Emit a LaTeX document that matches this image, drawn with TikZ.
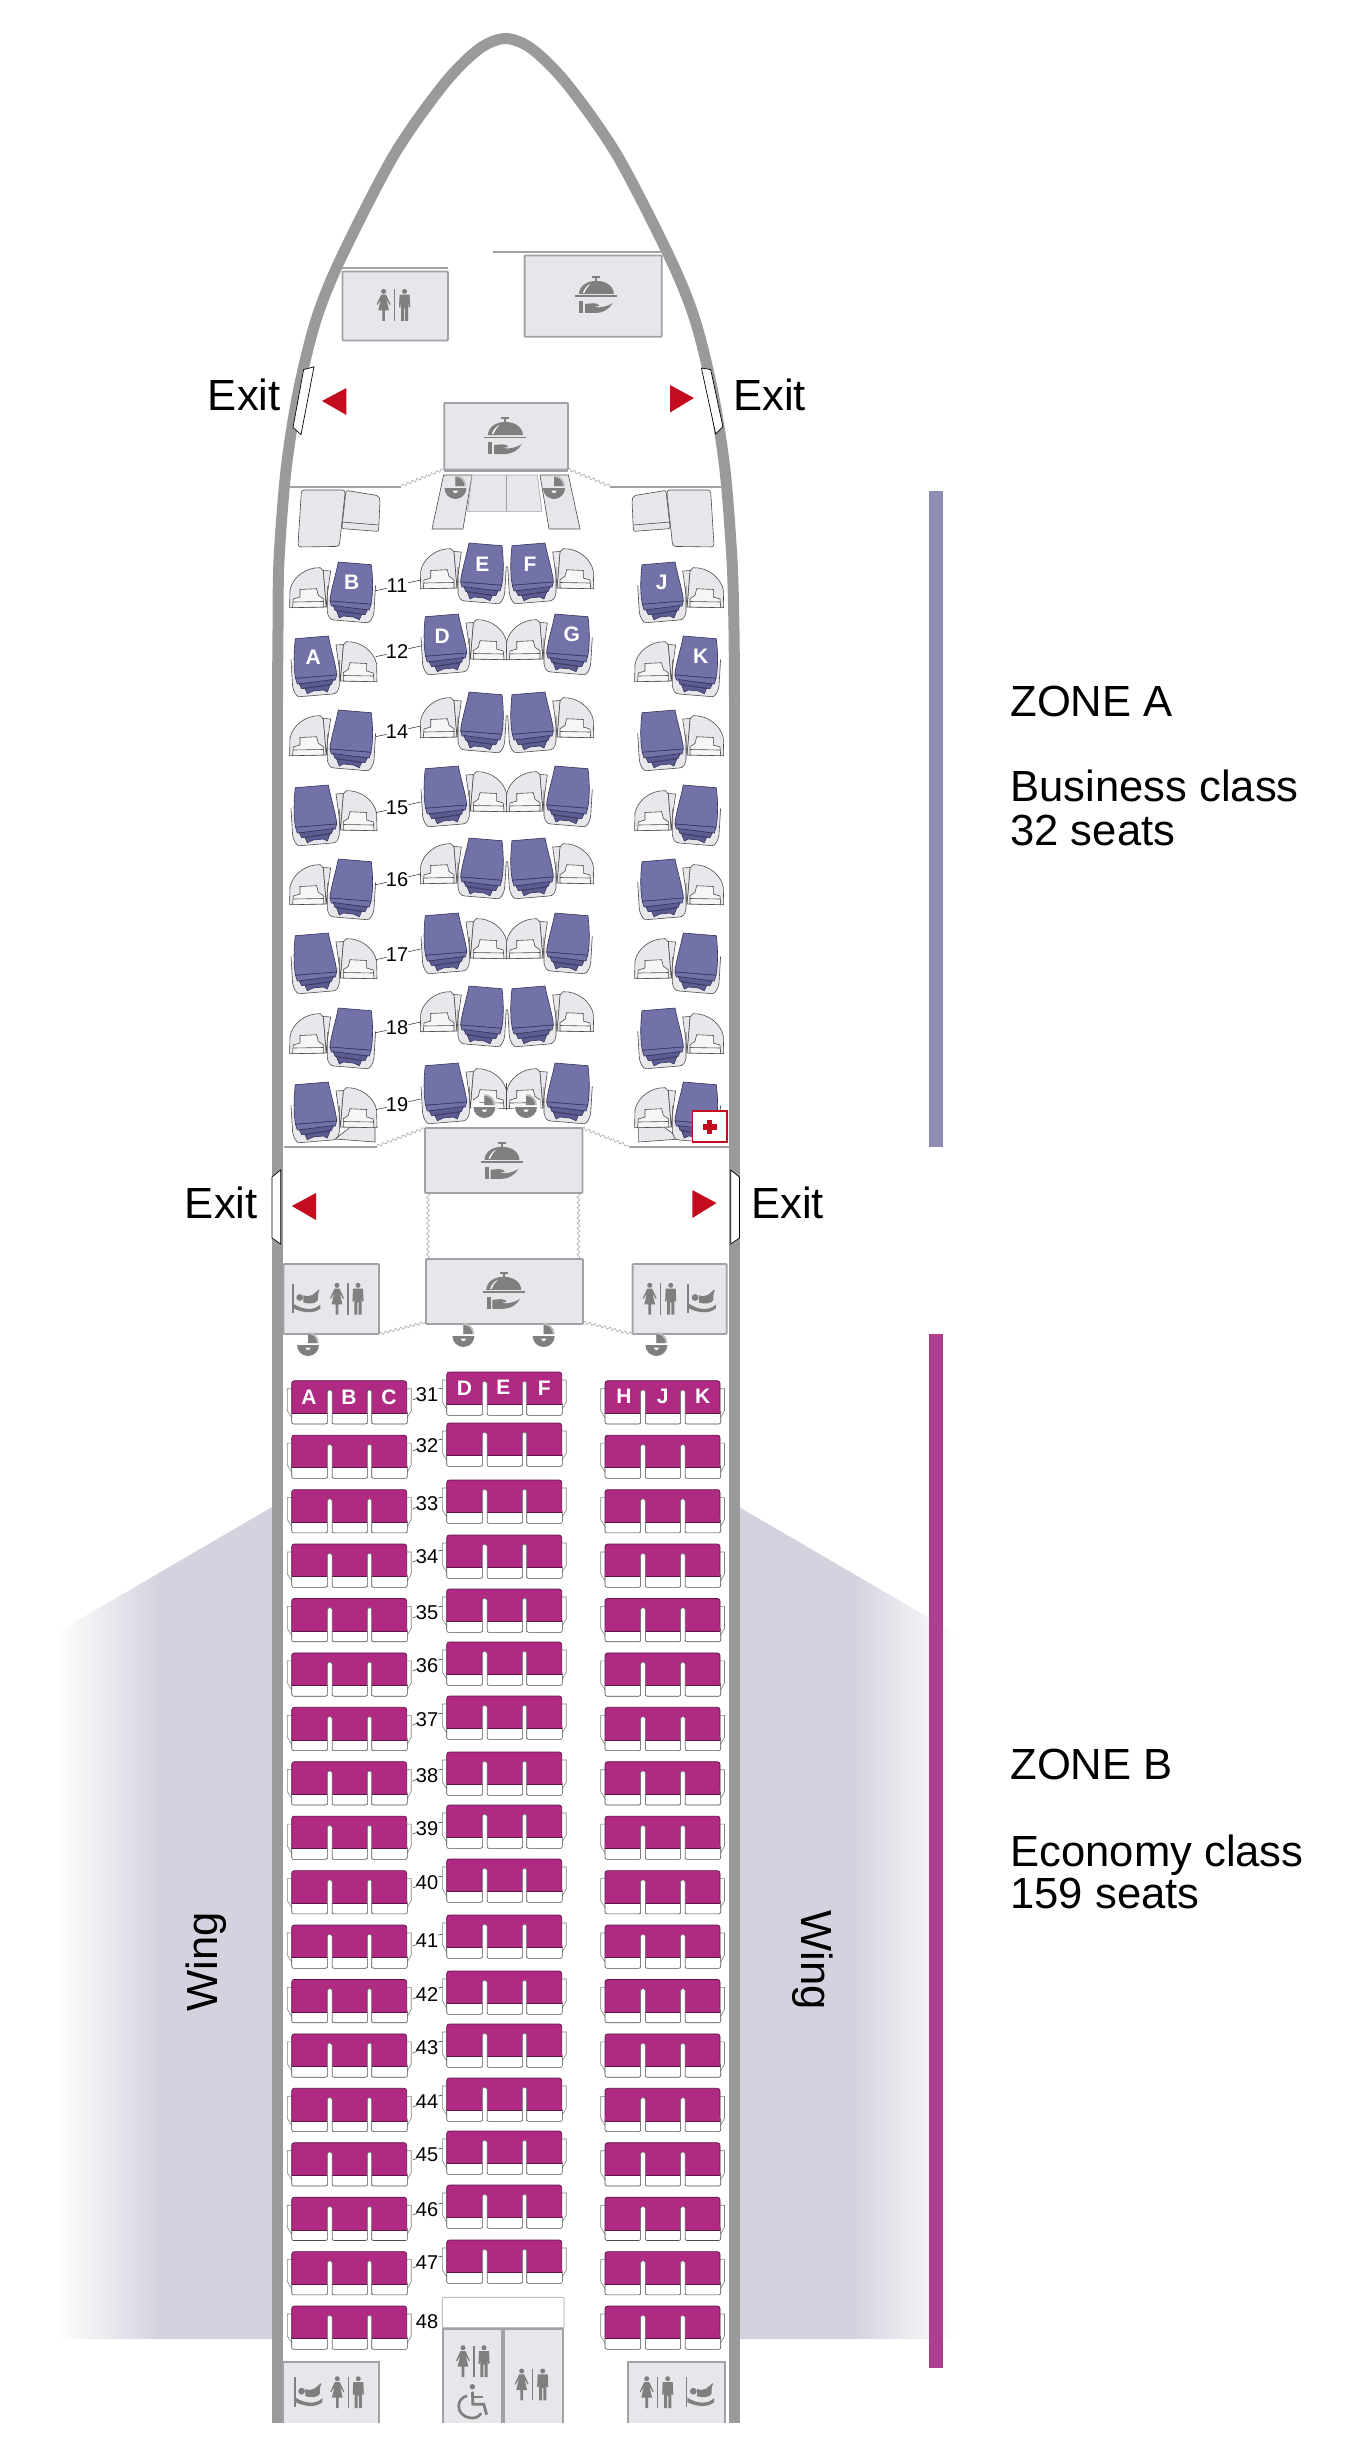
\documentclass[tikz,border=0pt]{standalone}
\usepackage{fontspec}
\setmainfont{Liberation Sans}
\usetikzlibrary{decorations.pathmorphing}
\definecolor{wallc}{HTML}{9A9A9A}
\definecolor{boxf}{HTML}{E6E6EB}
\definecolor{boxl}{HTML}{A2A2A6}
\definecolor{icon}{HTML}{7F7F7F}
\definecolor{bizc}{HTML}{7272A8}
\definecolor{bizd}{HTML}{5C5C92}
\definecolor{bizl}{HTML}{33335A}
\definecolor{econc}{HTML}{B02A84}
\definecolor{econd}{HTML}{5A1446}
\definecolor{redc}{HTML}{C30D1E}
\definecolor{wingc}{HTML}{D3D3DF}
\definecolor{bara}{HTML}{8F8FB5}
\definecolor{barb}{HTML}{B03E90}
\definecolor{consc}{HTML}{E8E8EC}
\tikzset{
  wall/.style={draw=wallc,line width=5.5pt},
  boxed/.style={draw=boxl,fill=boxf,line width=.9pt,rounded corners=.4pt},
  partn/.style={draw=boxl,line width=1pt},
  wavy/.style={draw=boxl!90,line width=.3pt,decorate,decoration={snake,amplitude=.7pt,segment length=2.6pt}},
  door/.style={draw=black,fill=white,line width=.35pt},
  fine/.style={draw=black!70,line width=.3pt},
  arrowtri/.style={fill=redc},
  bigtext/.style={font=\fontsize{21.8}{25}\selectfont,inner sep=0pt,anchor=base west},
  rownum/.style={font=\fontsize{10}{12}\selectfont,inner sep=0pt},
  seatletter/.style={font=\fontsize{10.5}{12}\selectfont\bfseries,text=white,inner sep=0pt},
  tick/.style={draw=black!75,line width=.3pt},
}
% --- icons (all in pixel units around an origin)
\newcommand{\mealicon}[2]{\begin{scope}[shift={(#1,#2)}]
  \fill[icon] (-17.5,-2.5) .. controls (-17,-11) and (-9,-15.5) .. (0,-15.5) .. controls (9,-15.5) and (17,-11) .. (17.5,-2.5) -- cycle;
  \fill[white] (-13.5,-3.5) .. controls (-12,-8) and (-9,-11) .. (-6,-12.5) .. controls (-9,-9) and (-11,-7) .. (-12,-3.5) -- cycle;
  \fill[icon] (-1,-19) rectangle (1,-15);
  \fill[icon] (-4,-20.5) rectangle (4,-18.6);
  \fill[icon] (-21,-1) rectangle (21,0.6);
  \fill[icon] (-17,4.6) rectangle (-13,16.8);
  \fill[icon] (-11.4,7.5) -- (-3,6.8) .. controls (0,6.8) and (3,8) .. (3,9.5) -- (-3,10.5) -- (3,11) .. controls (8,10.5) and (13,9) .. (16.5,6.4) .. controls (13,13) and (6,16.5) .. (0,16.5) -- (-11.4,16.5) -- cycle;
\end{scope}}
\newcommand{\wcicon}[2]{\begin{scope}[shift={(#1,#2)}]
  \fill[icon] (-0.6,-16) rectangle (0.6,15.4);
  \fill[icon] (-11,-14) circle (2.5);
  \fill[icon] (-13.5,-10.7) -- (-8.5,-10.7) -- (-4,-1) -- (-5,-.5) -- (-8.2,-6) -- (-5.6,5) -- (-9.7,5) -- (-9.7,15.4) -- (-11.2,15.4) -- (-11.2,5) -- (-10.8,5) -- (-10.8,15.4) -- (-12.3,15.4) -- (-12.3,5) -- (-16.4,5) -- (-13.8,-6) -- (-17,-.5) -- (-18,-1) -- cycle;
  \fill[icon] (10,-14) circle (2.5);
  \fill[icon] (5,-10.7) -- (15,-10.7) -- (15.6,2) -- (14.1,2) -- (13.6,-6) -- (13.6,15.4) -- (10.6,15.4) -- (10.6,3) -- (9.4,3) -- (9.4,15.4) -- (6.4,15.4) -- (6.4,-6) -- (5.9,2) -- (4.4,2) -- cycle;
\end{scope}}
\newcommand{\cribicon}[2]{\begin{scope}[shift={(#1,#2)}]
  \fill[icon] (-14.5,-14.5) rectangle (-12.7,15);
  \fill[icon] (-12.7,6) .. controls (-2,12.5) and (8,12.5) .. (14,6.5) -- (14,10.5) .. controls (8,15.5) and (-2,15.5) .. (-12.7,10.5) -- cycle;
  \fill[icon] (-6.7,-0.5) circle (3.4);
  \fill[icon] (-3,-3) .. controls (0,-1) and (3,-2) .. (6,-3) .. controls (8,-4) and (10,-7) .. (12.5,-8.5) -- (13,-7.5) .. controls (11,-5) and (12,-1) .. (11.5,2) .. controls (10,6) and (2,6) .. (-3,4.5) -- cycle;
\end{scope}}
\newcommand{\chairicon}[2]{\begin{scope}[shift={(#1,#2)}]
  \fill[icon] (0.7,-15) circle (2.7);
  \draw[icon,line width=1.4pt] (0.7,-10) -- (1.2,2.5) -- (12,2.5) -- (15,13);
  \draw[icon,line width=1.1pt] (1,-4.5) -- (11,-4.5);
  \draw[icon,line width=1.3pt] (9.5,11.5) .. controls (7,16) and (1.5,17) .. (-2,16) .. controls (-8,15.5) and (-13.5,10) .. (-13,4) .. controls (-13,-1) and (-9,-5) .. (-4.5,-6);
\end{scope}}
\newcommand{\crewicon}[2]{\begin{scope}[shift={(#1,#2)}]
  \fill[black!25] (0,-1) -- (0,-12) arc (-90:0:11) -- cycle;
  \fill[icon] (0,-1) -- (0,-10) arc (-90:0:9) -- cycle;
  \fill[icon] (-11,1) arc (180:0:11) -- cycle;
  \fill[white] (-2.5,3.5) -- (2.5,3.5) arc (0:180:2.5) -- cycle;
\end{scope}}
% --- business seat; #1 = 1 or -1 (mirror), #2,#3 = top corner of the seat
\newcommand{\bizseat}[3]{\begin{scope}[shift={(#2,#3)},xscale=#1]
  \path[fill=consc,fine] (-48.7,45.7) -- (-48.3,28) .. controls (-46,16) and (-33,5) .. (-18,5.7) -- (-15,9) -- (-12,45) -- cycle;
  \path[fill=consc,fine] (-15,8.5) -- (-7.7,9) -- (-11,33) -- (-12,45) -- cycle;
  \path[fill=white!60!consc,fine] (-45,37) -- (-38.3,35) -- (-38.3,27.5) -- (-21.7,26.7) -- (-20,33.3) -- (-15,36.7) -- (-15,45) -- (-45.7,45.7) -- cycle;
  \draw[fine] (-45,40) -- (-15,39.5);
  \fill[consc] (-11,33) -- (-11,50) -- (-6.7,57.7) -- (31.7,60.7) -- (35.7,51.7) -- (37.3,23.3) -- (30,40) -- cycle;
  \draw[fine] (-11,24) -- (-11,50) .. controls (-10,55) and (-8,58) .. (-4,58) -- (29,60.7) .. controls (32,60.7) and (35,55) .. (35.7,50) -- (37.3,23.3);
  \path[fill=bizc,draw=bizl,line width=.3pt] (0,0) -- (33,2.7) .. controls (34.5,15) and (35,30) .. (32.7,42.3) -- (-8.3,39) .. controls (-8,30) and (-3,15) .. (0,0) -- cycle;
  \path[fill=bizc,draw=bizl,line width=.3pt] (-8.3,39) -- (32.7,42.3) -- (31,48) -- (-7,44) -- cycle;
  \path[fill=bizd,draw=bizl,line width=.3pt] (-5,43.5) -- (29,48) -- (26.7,52.7) -- (-3.3,48.3) -- cycle;
  \path[fill=bizd,draw=bizl,line width=.3pt] (-1.7,49) -- (23.3,52.5) -- (21,57.7) -- (15,55) -- (5,54) -- (1,56) -- cycle;
\end{scope}}
% --- economy triple
\newcommand{\econrow}[2]{\begin{scope}[shift={(#1,#2)}]
  \draw[fine,draw=black!50] (0,8) -- (-4.3,8) -- (-4.3,30) -- (0,37);
  \draw[fine,draw=black!50] (115,8) -- (119.5,8) -- (119.5,30) -- (115.5,37);
  \foreach \a/\b in {0/35.7,40.3/75.7,80/115.7}{\draw[fine,fill=white,rounded corners=1pt] (\a,30) rectangle (\b,43.3);}
  \path[fill=econc,draw=econd,line width=.35pt,rounded corners=1.3pt] (0,32.7) -- (0,0) -- (115,0) -- (115,32.7);
  \fill[econc] (0,28) rectangle (115,32.7);
  \draw[econd,line width=.4pt] (0,32.7) -- (115,32.7);
  \foreach \a/\b in {35.7/40.3,75.7/80}{\path[fill=white,draw=black!60,line width=.25pt,rounded corners=.8pt] (\a,43) -- (\a,9.3) -- (\b,9.3) -- (\b,43);}
\end{scope}}
\begin{document}
\begin{tikzpicture}[x=0.5pt,y=-0.5pt]
\useasboundingbox (0,0) rectangle (1344,2441);
% wings
\begin{scope}
  \clip (272,1507) -- (56,1633) -- (56,2339) -- (272,2339) -- cycle;
  \shade[left color=white,right color=wingc] (56,1500) rectangle (160,2340);
  \fill[wingc] (159,1500) rectangle (273,2340);
\end{scope}
\begin{scope}
  \clip (739,1507) -- (955,1633) -- (955,2339) -- (739,2339) -- cycle;
  \fill[wingc] (738,1500) rectangle (854,2340);
  \shade[left color=wingc,right color=white] (853,1500) rectangle (955,2340);
\end{scope}
% fuselage
\draw[wall] (277.5,2423) -- (277.5,700);
\draw[wall] (734.5,2423) -- (734.5,700);
\draw[wall,smooth] plot coordinates {(277.5,700) (278,630) (279,560) (286,470) (298,393) (316,320) (341,258) (394,155) (444,84) (479,49) (505.5,38.5) (532,49) (567,84) (617,155) (670,258) (695,320) (713,393) (725,470) (732,560) (734,630) (734.5,700)};
% doors
\path[door] (303.6,369.6) -- (314,366.8) -- (301,434.6) -- (293,427.5) -- cycle;
\path[door] (701.4,368) -- (710.7,369.6) -- (722.9,426.8) -- (715.7,434) -- cycle;
\path[door] (280.7,1170) -- (280.7,1244) -- (272,1238) -- (272,1177) -- cycle;
\path[door] (730.7,1170) -- (739.4,1177) -- (739.4,1238) -- (730.7,1244) -- cycle;
% arrows
\fill[arrowtri] (322,401) -- (346.4,388) -- (346.4,415) -- cycle;
\fill[arrowtri] (694,398) -- (670,385) -- (670,412.5) -- cycle;
\fill[arrowtri] (291.8,1206) -- (316,1193) -- (316,1220) -- cycle;
\fill[arrowtri] (716.5,1203) -- (692.3,1190) -- (692.3,1218) -- cycle;
% exit labels
\node[bigtext,anchor=base east] (exitTL) at (281,410) {Exit};
\node[bigtext] (exitTR) at (733,410) {Exit};
\node[bigtext,anchor=base east] (exitML) at (258,1218) {Exit};
\node[bigtext] (exitMR) at (751,1218) {Exit};
% front lav and galley
\draw[partn] (342,268) -- (447.9,268);
\path[boxed] (342.5,271.4) rectangle (447.9,340.4);
\draw[partn] (492.5,252) -- (663,252);
\path[boxed] (524.6,255.4) rectangle (661.8,336.8);
\path[boxed] (444.3,402.9) rectangle (567.9,469.6);
\wcicon{394.6}{305.4}
\mealicon{596.4}{296.4}
\mealicon{505.4}{437.5}
% partitions
\draw[partn] (290,487) -- (401.4,487);
\draw[partn] (610,487) -- (722,487);
\draw[wavy] (401.4,486) -- (444.3,469);
\draw[wavy] (567.9,469) -- (610,486);
\draw[partn,line width=.7pt] (444,471) -- (568,471);
% front furniture
\foreach \m/\s in {1/0,-1/1012}{
\begin{scope}[shift={(\s,0)},xscale=\m]
  \path[fill=boxf,fine,rounded corners=1.5pt] (301.4,490) -- (345.4,490) -- (339.3,546.4) -- (297.9,547) -- cycle;
  \path[fill=boxf,fine,rounded corners=1pt] (346,490.4) -- (378.6,495.7) -- (380,500) -- (378.6,531.4) -- (341.8,528.6) -- cycle;
  \draw[fine] (341.8,522) -- (378.6,525);
  \path[fill=boxf,fine] (443.6,475) -- (472,475) -- (463,529) -- (432,529) -- cycle;
\end{scope}}
\path[fill=boxf,draw=boxl,line width=.3pt] (472,475) -- (537.5,475) -- (541.8,511.4) -- (467.5,511.4) -- cycle;
\draw[boxl,line width=.4pt] (506,475) -- (506,511.4);
\crewicon{455.4}{487}
\crewicon{554}{487}
% business rows
\foreach \n/\yl/\yc/\yt/\kind in {11/562/543/586/0,12/636/614/652/1,14/710/692/732/0,15/785/766/808/1,16/859/838/880/0,17/933/913/955/1,18/1008/986/1028/0,19/1082/1063/1105/1}{
  \ifnum\kind=0
    \bizseat{1}{338.3}{\yl}\bizseat{-1}{675}{\yl}\bizseat{1}{469}{\yc}\bizseat{-1}{545}{\yc}
  \else
    \ifnum\n=19
      \path[fill=consc,fine] (335,1139) -- (375,1142) -- (375,1108) -- cycle;
      \path[fill=consc,fine] (680,1139) -- (638.6,1142) -- (638.6,1108) -- cycle;
    \fi
    \bizseat{-1}{328.3}{\yl}\bizseat{1}{683.3}{\yl}\bizseat{-1}{458.3}{\yc}\bizseat{1}{555}{\yc}
  \fi
  \node[rownum] (row\n) at (397,\yt) {\n};
  \draw[tick] (row\n.center) ++(-21.3,4.7) -- ++(11,-2.4);
  \draw[tick] (row\n.center) ++(11.3,-3.3) -- ++(12.4,-2.7);
}
% row 19 centre: the tables give way to the crew seats
\fill[white] (472,1100) -- (505.6,1111) -- (505.6,1126) -- (470,1126) -- cycle;
\fill[white] (540,1100) -- (506.4,1111) -- (506.4,1126) -- (542,1126) -- cycle;
\draw[fine] (506,1083) -- (506,1110);
\crewicon{484.4}{1106}
\crewicon{526}{1106}
% seat letters, business
\foreach \l/\x/\y in {B/351.6/582.5,J/661.7/582.5,E/482.3/564.5,F/530/564.5,A/313.3/657.7,K/700.6/656.5,D/442.3/636.5,G/571.7/634.5}{
  \node[seatletter] (seat\l) at (\x,\y) {\l};
}
% red cross
\path[draw=redc,fill=white,line width=.8pt] (692.3,1110.7) rectangle (726.7,1142);
\fill[redc] (707,1120) rectangle (712.4,1133.5);
\fill[redc] (702.5,1124) rectangle (717,1129.5);
% mid section
\draw[partn] (284,1147) -- (377,1147);
\draw[partn] (628.7,1147) -- (730,1147);
\draw[wavy] (377,1146) -- (425,1128);
\draw[wavy] (582.4,1128) -- (628.7,1146);
\draw[wavy] (428,1193) -- (428,1259);
\draw[wavy] (578.5,1193) -- (578.5,1259);
\draw[wavy] (379,1334) -- (426,1322);
\draw[wavy] (583,1322) -- (632.6,1334);
\path[boxed] (425,1128) rectangle (582.4,1193);
\path[boxed] (426,1259) rectangle (583,1324);
\path[boxed] (283.5,1264) rectangle (379,1334);
\path[boxed] (632.6,1264) rectangle (726.7,1334);
\mealicon{502}{1162.3}
\mealicon{503.7}{1292.3}
\cribicon{306.4}{1298}
\wcicon{348}{1299.3}
\wcicon{660.7}{1299.3}
\cribicon{701.8}{1298}
\crewicon{308}{1344}
\crewicon{463.4}{1335}
\crewicon{543.7}{1335}
\crewicon{656.4}{1344}
% economy rows
\foreach \n/\yl/\yc/\yt in {31/1380.7/1372/1395,32/1435.1/1423/1446,33/1489.6/1480/1504,34/1544/1535/1557,35/1598.4/1589/1613,36/1652.9/1642/1666,37/1707.3/1696/1720,38/1761.7/1752/1776,39/1816.1/1805/1829,40/1870.6/1859/1883,41/1925/1915/1941,42/1979.4/1971/1994,43/2033.9/2024/2048,44/2088.3/2078/2102,45/2142.7/2131/2155,46/2197.2/2185/2210,47/2251.6/2240/2263}{
  \econrow{291.7}{\yl}\econrow{446.7}{\yc}\econrow{605}{\yl}
  \node[rownum] (row\n) at (427,\yt) {\n};
  \draw[tick] (row\n.center) ++(-14.3,5) -- ++(4,-1.7);
  \draw[tick] (row\n.center) ++(11.3,-6) -- ++(4.4,-1);
}
\econrow{291.7}{2306}\econrow{605}{2306}
\node[rownum] (row48) at (427,2322) {48};
% economy letters
\foreach \l/\x/\y in {A/309/1397.4,B/349/1397.4,C/389/1397.4,H/624/1396.7,J/662.7/1396.7,K/702.7/1396}{
  \node[seatletter] (seat2\l) at (\x,\y) {\l};
}
\foreach \l/\x/\y in {D/464.4/1388.4,E/503.4/1387.4,F/544.4/1388.4}{
  \node[seatletter] (seat2\l) at (\x,\y) {\l};
}
% aft
\path[draw=boxf!60!gray,fill=white,line width=.5pt,rounded corners=.5pt] (442.3,2297.3) rectangle (564,2327.7);
\foreach \a/\b/\c in {443.3/501.7/2329,504.3/562.7/2329,282.7/378.7/2362.3,628.3/724.7/2362.3}{
  \fill[boxf] (\a,\c) rectangle (\b,2423);
  \draw[boxl,line width=.9pt] (\a,2423) -- (\a,\c) -- (\b,\c) -- (\b,2423);
}
\wcicon{474}{2361.7}
\chairicon{471.7}{2401.7}
\wcicon{532.7}{2385}
\cribicon{308.3}{2391.7}
\wcicon{348.3}{2392.7}
\wcicon{657.7}{2392.7}
\cribicon{700}{2391.7}
% zone bars
\fill[bara] (929,491.3) rectangle (942.7,1147);
\fill[barb] (929,1334) rectangle (942.7,2367.7);
% zone text
\node[bigtext] (zoneA) at (1010,716.7) {ZONE A};
\node[bigtext] (bizA) at (1010,801.7) {Business class};
\node[bigtext] (bizB) at (1010,845) {32 seats};
\node[bigtext] (zoneB) at (1010,1779.3) {ZONE B};
\node[bigtext] (ecoA) at (1010,1866) {Economy class};
\node[bigtext] (ecoB) at (1010,1908.3) {159 seats};
\node[rotate=90,font=\fontsize{21.8}{25}\selectfont,inner sep=0pt] (wingL) at (206,1962) {Wing};
\node[rotate=-90,font=\fontsize{21.8}{25}\selectfont,inner sep=0pt] (wingR) at (813,1960) {Wing};
\end{tikzpicture}
\end{document}
